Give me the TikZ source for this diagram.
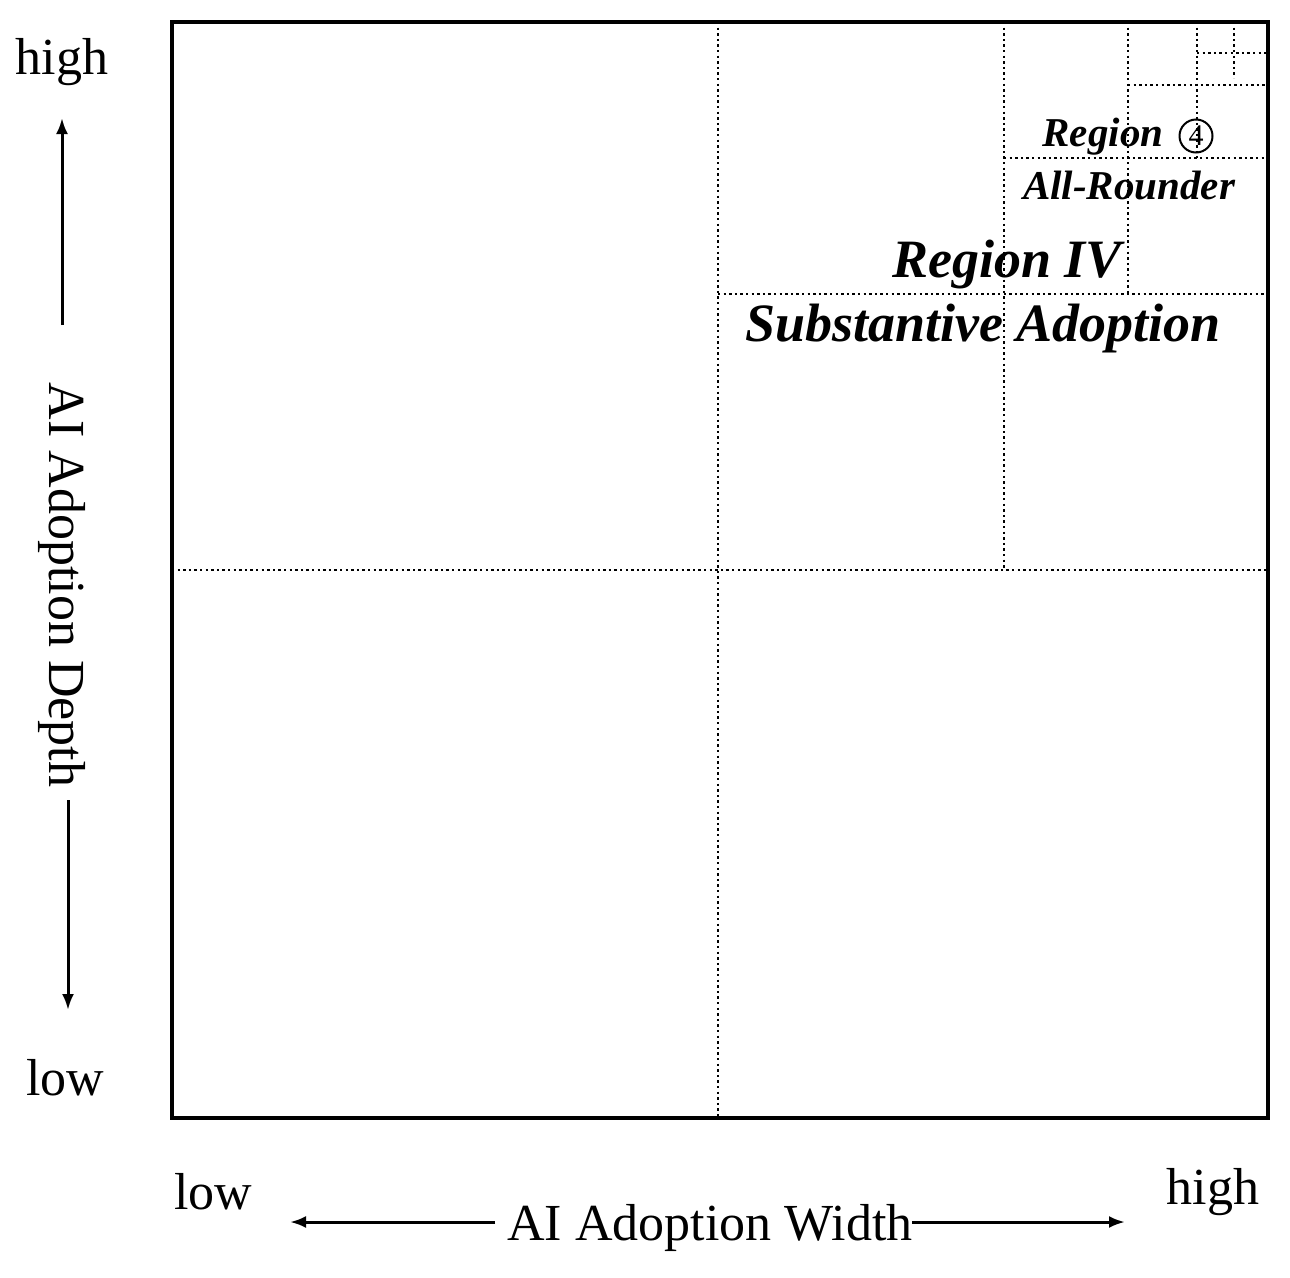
\documentclass[tikz,border=0pt]{standalone}
\usepackage{fontspec}
\setmainfont{Liberation Serif}
\usetikzlibrary{arrows.meta}
\begin{document}
\begin{tikzpicture}[x=1pt,y=-1pt,
  grid/.style={line width=2.4pt,dash pattern=on 2.4pt off 3.2pt},
  big/.style={font=\fontsize{54}{56}\selectfont\bfseries\itshape},
  small/.style={font=\fontsize{41}{43}\selectfont\bfseries\itshape},
  ax/.style={font=\fontsize{52}{54}\selectfont},
  arr/.style={line width=3pt,-{Latex[length=16pt,width=12pt]}}]
\useasboundingbox (0,0) rectangle (1290,1277);
\draw[grid] (718,22) -- (718,1118);
\draw[grid] (172,570) -- (1268,570);
\draw[grid] (1004,22) -- (1004,570);
\draw[grid] (718,294) -- (1268,294);
\draw[grid] (1128,22) -- (1128,294);
\draw[grid] (1004,158) -- (1268,158);
\draw[grid] (1197,22) -- (1197,158);
\draw[grid] (1128,85) -- (1268,85);
\draw[grid] (1234,22) -- (1234,78);
\draw[grid] (1197,53) -- (1268,53);
\draw[line width=3.5pt] (172,22) rectangle (1268,1118);
\node[big] (r4) at (1007,265) {Region IV};
\node[big] (sa) at (983,329) {Substantive Adoption};
\node[small] (rc) at (1103,137) {Region};
\node[circle,draw,line width=2pt,inner sep=1pt,minimum size=33pt,font=\fontsize{30}{30}\selectfont] (c4) at (1196,136) {4};
\node[small] (ar) at (1129,186) {All-Rounder};
\node[ax] (yh) at (62,62) {high};
\node[ax] (yl) at (65,1078) {low};
\node[ax,rotate=-90] (yt) at (62,585) {AI Adoption Depth};
\coordinate (ya) at (62,325); \coordinate (yb) at (62,118);
\coordinate (yc) at (68,800); \coordinate (yd) at (68,1010);
\draw[arr] (ya) -- (yb);
\draw[arr] (yc) -- (yd);
\node[ax] (xl) at (213,1192) {low};
\node[ax] (xh) at (1213,1192) {high};
\node[ax] (xt) at (710,1228) {AI Adoption Width};
\coordinate (xa) at (495,1222); \coordinate (xb) at (290,1222);
\coordinate (xc) at (912,1222); \coordinate (xd) at (1125,1222);
\draw[arr] (xa) -- (xb);
\draw[arr] (xc) -- (xd);
\end{tikzpicture}
\end{document}
